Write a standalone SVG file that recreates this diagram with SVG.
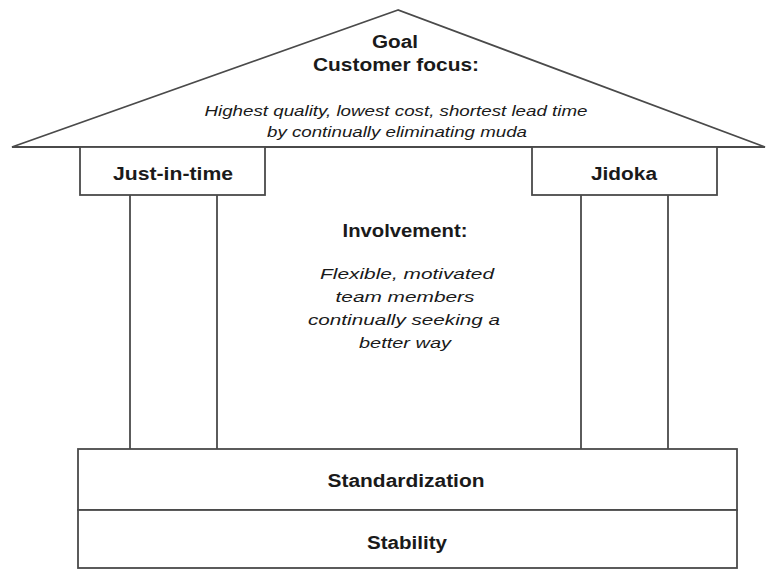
<svg xmlns="http://www.w3.org/2000/svg" width="768" height="571" viewBox="0 0 768 571">
<style>
.ln{fill:none;stroke:#4a4a4a;stroke-width:1.8}
.bx{fill:#fff;stroke:#4a4a4a;stroke-width:1.8}
.b{font-family:"Liberation Sans",Arial,sans-serif;font-weight:bold;font-size:18px;fill:#1a1a1a;text-anchor:middle}
.i{font-family:"Liberation Sans",Arial,sans-serif;font-style:italic;font-size:15.5px;fill:#1a1a1a;text-anchor:middle}
</style>
<rect width="768" height="571" fill="#fff"/>
<g id="roof">
<polygon class="bx" points="398,10 12,147 765,147"/>
<text class="b" x="395" y="48" textLength="46" lengthAdjust="spacingAndGlyphs">Goal</text>
<text class="b" x="396" y="71" textLength="166" lengthAdjust="spacingAndGlyphs">Customer focus:</text>
<text class="i" x="396" y="116" textLength="383" lengthAdjust="spacingAndGlyphs">Highest quality, lowest cost, shortest lead time</text>
<text class="i" x="397" y="137" textLength="260" lengthAdjust="spacingAndGlyphs">by continually eliminating muda</text>
</g>
<g id="connectors">
<line class="ln" x1="130" y1="195" x2="130" y2="449"/>
<line class="ln" x1="217" y1="195" x2="217" y2="449"/>
<line class="ln" x1="581" y1="195" x2="581" y2="449"/>
<line class="ln" x1="668" y1="195" x2="668" y2="449"/>
</g>
<g id="jit">
<rect class="bx" x="80" y="147" width="185" height="48"/>
<text class="b" x="173" y="180" textLength="120" lengthAdjust="spacingAndGlyphs">Just-in-time</text>
</g>
<g id="jidoka">
<rect class="bx" x="532" y="147" width="185" height="48"/>
<text class="b" x="624" y="180" textLength="66" lengthAdjust="spacingAndGlyphs">Jidoka</text>
</g>
<g id="involvement">
<text class="b" x="405" y="237" textLength="125" lengthAdjust="spacingAndGlyphs">Involvement:</text>
<text class="i" x="407" y="279" textLength="174" lengthAdjust="spacingAndGlyphs">Flexible, motivated</text>
<text class="i" x="405" y="302" textLength="139" lengthAdjust="spacingAndGlyphs">team members</text>
<text class="i" x="404" y="325" textLength="192" lengthAdjust="spacingAndGlyphs">continually seeking a</text>
<text class="i" x="405" y="348" textLength="92" lengthAdjust="spacingAndGlyphs">better way</text>
</g>
<g id="standardization">
<rect class="bx" x="78" y="449" width="659" height="61"/>
<text class="b" x="406" y="487" textLength="157" lengthAdjust="spacingAndGlyphs">Standardization</text>
</g>
<g id="stability">
<rect class="bx" x="78" y="510" width="659" height="58"/>
<text class="b" x="407" y="549" textLength="80" lengthAdjust="spacingAndGlyphs">Stability</text>
</g>
</svg>
